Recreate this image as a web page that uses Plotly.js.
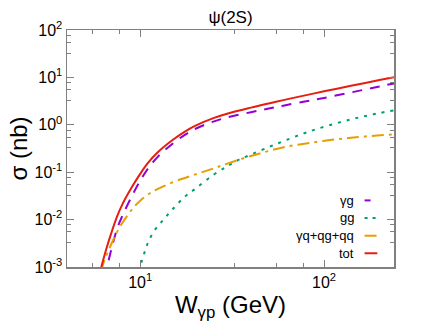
<!DOCTYPE html>
<html>
<head>
<meta charset="utf-8">
<script src="https://cdn.plot.ly/plotly-3.0.1.min.js"></script>
<style>
  body { margin: 0; background: #fff; }
  #plot { width: 436px; height: 327px; }
</style>
</head>
<body>
<div id="plot"></div>
<script>
// W_gamma-p (GeV) and cross sections (nb)
var W_yg = [6.4, 6.6, 7, 7.5, 8, 9, 10, 11, 12.5, 15, 17.5, 20, 25, 30, 40, 50, 60, 80, 100, 140, 170, 200, 240];
var sig_yg = [0.0006, 0.001, 0.0025, 0.0065, 0.012, 0.031, 0.066, 0.118, 0.213, 0.40, 0.613, 0.825, 1.17, 1.44, 1.845, 2.2, 2.535, 3.14, 3.69, 4.82, 5.63, 6.44, 7.45];

var W_gg = [9.8, 10.5, 11, 12, 13.4, 15, 17.6, 20, 25, 30, 34, 40, 50, 60, 75, 90, 114, 140, 166, 200, 240];
var sig_gg = [0.0008, 0.0019, 0.0032, 0.006, 0.01, 0.0165, 0.031, 0.045, 0.088, 0.135, 0.179, 0.235, 0.34, 0.45, 0.63, 0.8, 1.05, 1.3, 1.52, 1.77, 2.02];

var W_q = [6.1, 6.4, 6.87, 7.3, 7.78, 8.5, 9.2, 10, 11.3, 13, 15.8, 20, 25, 28.8, 40, 50, 61, 75, 92.7, 115, 140, 180, 240];
var sig_q = [0.0008, 0.0014, 0.0027, 0.0045, 0.0072, 0.012, 0.018, 0.025, 0.036, 0.048, 0.066, 0.09, 0.12, 0.145, 0.22, 0.28, 0.34, 0.39, 0.44, 0.49, 0.53, 0.58, 0.63];

var W_tot = [6.0, 6.5, 7, 7.5, 8, 9, 10, 11, 12.5, 15, 17.5, 20, 25, 30, 40, 50, 60, 80, 100, 140, 170, 200, 240];
var sig_tot = [0.0007, 0.0022, 0.0055, 0.0118, 0.021, 0.048, 0.092, 0.155, 0.266, 0.477, 0.72, 0.96, 1.38, 1.73, 2.3, 2.82, 3.32, 4.23, 5.08, 6.65, 7.75, 8.8, 10.1];

var names = ["γg", "gg", "γq+qg+qq", "tot"];
var colors = ["#9400d3", "#009e73", "#e69f00", "#e51e10"];
var dashes = ["10px,8px", "3px,6px", "12px,5px,3px,5px", "solid"];

var xTicks = [10, 100];
var xTickText = ["10<sup>1</sup>", "10<sup>2</sup>"];
var xMinor = [5.5, 7.75, 32.5, 55, 77.5];
var yTicks = [1e-3, 1e-2, 1e-1, 1, 10, 100];
var yTickText = ["10<sup>-3</sup>", "10<sup>-2</sup>", "10<sup>-1</sup>", "10<sup>0</sup>", "10<sup>1</sup>", "10<sup>2</sup>"];

var yMinor = [];
[1e-3, 1e-2, 1e-1, 1, 10].forEach(function (d) {
  [3.25, 5.5, 7.75].forEach(function (m) { yMinor.push(m * d); });
});

var xs = [W_yg, W_gg, W_q, W_tot];
var ys = [sig_yg, sig_gg, sig_q, sig_tot];

var data = [];
for (var i = 0; i < 4; i++) {
  data.push({
    x: xs[i],
    y: ys[i],
    mode: "lines",
    type: "scatter",
    name: names[i],
    line: { color: colors[i], width: 2, dash: dashes[i], shape: "spline", smoothing: 1 },
    showlegend: false
  });
}

// hand-made legend: text right-aligned, sample line to the right
var legY = [0.281, 0.207, 0.132, 0.058];
var sampleDash = ["6px,10px", "3px,5px", "12px,5px,3px,5px", "solid"];
var annotations = [];
var shapes = [];
for (var j = 0; j < 4; j++) {
  annotations.push({
    text: names[j], xref: "paper", yref: "paper", x: 0.883, y: legY[j],
    xanchor: "right", yanchor: "middle", showarrow: false,
    font: { size: 13, color: "#000" }
  });
  shapes.push({
    type: "line", xref: "paper", yref: "paper",
    x0: 0.910, x1: 0.949, y0: legY[j], y1: legY[j],
    line: { color: colors[j], width: 2, dash: sampleDash[j] }
  });
}

var axisCommon = {
  showline: true, mirror: "ticks", linecolor: "#808080", linewidth: 1.5,
  ticks: "inside", ticklen: 7, tickwidth: 1, tickcolor: "#808080",
  showgrid: false, zeroline: false,
  tickfont: { size: 16, color: "#000" }
};

var layout = {
  width: 436, height: 327,
  margin: { l: 67, r: 42, t: 30, b: 60 },
  paper_bgcolor: "#fff", plot_bgcolor: "#fff",
  font: { family: "Liberation Sans, Arial, sans-serif", color: "#000" },
  title: { text: "ψ(2S)", x: 0.5, xref: "paper", y: 0.948, yanchor: "middle", font: { size: 17 } },
  xaxis: Object.assign({}, axisCommon, {
    type: "log", range: [Math.log10(4), Math.log10(240)],
    tickmode: "array", tickvals: xTicks, ticktext: xTickText,
    minor: { tickmode: "array", tickvals: xMinor, ticks: "inside", ticklen: 4, tickcolor: "#808080" },
    title: { text: "W<sub>γp</sub> (GeV)", font: { size: 24 }, standoff: 6 }
  }),
  yaxis: Object.assign({}, axisCommon, {
    type: "log", range: [-3, 2],
    tickmode: "array", tickvals: yTicks, ticktext: yTickText,
    minor: { tickmode: "array", tickvals: yMinor, ticks: "inside", ticklen: 4, tickcolor: "#808080" },
    title: { text: "σ (nb)", font: { size: 24 }, standoff: 0 }
  }),
  annotations: annotations,
  shapes: shapes
};

Plotly.newPlot("plot", data, layout, { staticPlot: true });
</script>
</body>
</html>
